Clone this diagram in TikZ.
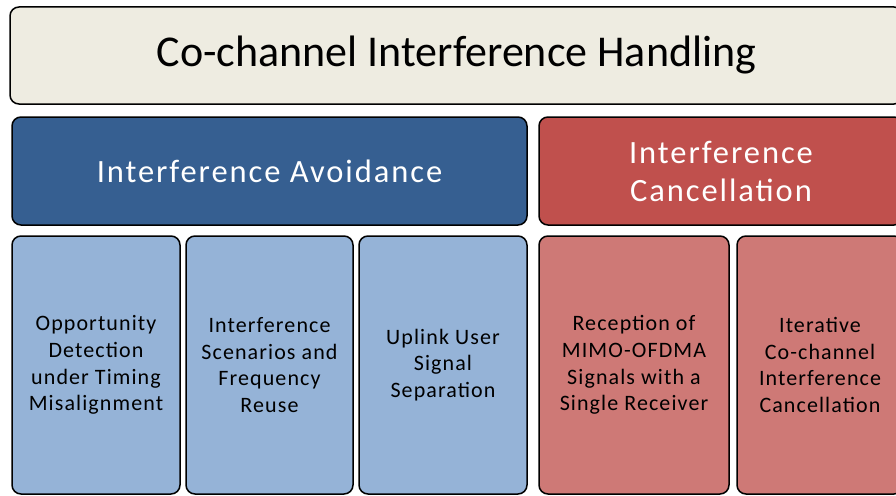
\documentclass[tikz,border=0pt]{standalone}
\usepackage{fontspec}
\setmainfont{Carlito}
\newfontfamily\headfont{Carlito}[LetterSpace=6]
\newfontfamily\leaffont{Carlito}[LetterSpace=5]
\definecolor{titlebg}{RGB}{238,236,225}
\definecolor{avoiddark}{RGB}{54,95,145}
\definecolor{canceldark}{RGB}{192,80,77}
\definecolor{avoidlight}{RGB}{149,179,215}
\definecolor{cancellight}{RGB}{206,121,118}
\begin{document}
\begin{tikzpicture}[x=1pt,y=-1pt]
		\tikzstyle{block} = [rectangle,rounded corners=9pt,draw=black,line width=1.5pt,inner sep=0pt,align=center]
		\tikzstyle{head} = [block,minimum height=108pt,text=white,font=\headfont\fontsize{32.5}{38}\selectfont]
		\tikzstyle{leaf} = [block,minimum height=258pt,font=\leaffont\fontsize{22}{26.7}\selectfont]
		\useasboundingbox (0,0) rectangle (896,495);
		\clip (0,0) rectangle (896,495);
		\node[block,fill=titlebg,minimum width=893pt,minimum height=97pt,font=\fontsize{44}{52}\selectfont]at (456.5,55.5)(title){Co-channel Interference Handling};
		\node[head,fill=avoiddark,minimum width=515pt]at (269.5,171)(avoid){Interference Avoidance};
		\node[head,fill=canceldark,minimum width=364pt]at (721,171)(cancel){Interference\\Cancellation};
		\node[leaf,fill=avoidlight,minimum width=168pt]at (96,365)(timing){Opportunity\\Detection\\under Timing\\Misalignment};
		\node[leaf,fill=avoidlight,minimum width=167pt]at (269.5,365)(reuse){Interference\\Scenarios and\\Frequency\\Reuse};
		\node[leaf,fill=avoidlight,minimum width=168pt]at (443,365)(uplink){Uplink User\\Signal\\Separation};
		\node[leaf,fill=cancellight,minimum width=190pt]at (634,365)(mimo){Reception of\\MIMO-OFDMA\\Signals with a\\Single Receiver};
		\node[leaf,fill=cancellight,minimum width=166pt]at (820,365)(iter){Iterative\\Co-channel\\Interference\\Cancellation};
		\end{tikzpicture}
\end{document}
